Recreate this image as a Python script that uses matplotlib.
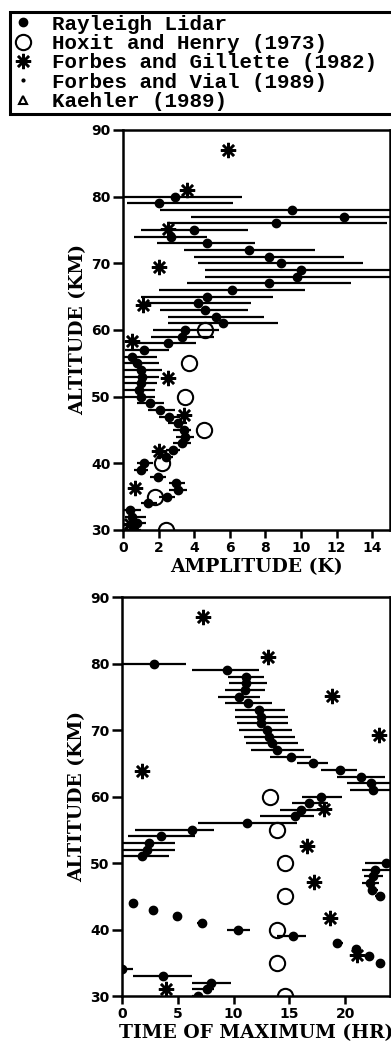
import numpy as np
import matplotlib
matplotlib.use("Agg")
import matplotlib.pyplot as plt

# Rayleigh lidar, altitude 30..80 km
alt = np.arange(30, 81)

# amplitude (K) with lower / upper ends of the bars
amp = [0.6, 0.8, 0.5, 0.4, 1.4, 2.45, 3.1, 3.0, 1.95, 1.0,
       1.2, 2.4, 2.8, 3.3, 3.5, 3.4, 3.1, 2.6, 2.1, 1.5,
       1.0, 0.9, 1.0, 1.05, 1.0, 0.8, 0.5, 1.2, 2.5, 3.3,
       3.5, 5.6, 5.2, 4.6, 4.2, 4.7, 6.1, 8.2, 9.8, 10.0,
       8.9, 8.2, 7.1, 4.7, 2.7, 4.0, 8.6, 12.4, 9.5, 2.0, 2.9]
amp_lo = [0.2, 0.3, 0.1, 0.0, 1.0, 2.0, 2.6, 2.6, 1.5, 0.6,
          0.8, 1.9, 2.4, 2.8, 3.0, 2.8, 2.5, 2.0, 1.4, 0.8,
          0.0, 0.0, 0.0, 0.0, 0.0, 0.0, 0.0, 0.1, 0.5, 1.6,
          1.7, 2.5, 2.5, 2.1, 1.1, 1.0, 2.0, 3.6, 4.6, 4.6,
          4.2, 4.0, 3.4, 1.9, 0.6, 1.0, 2.6, 3.8, 2.1, 0.24, -0.9]
amp_hi = [1.0, 1.3, 1.3, 1.0, 1.9, 2.9, 3.6, 3.5, 2.4, 1.4,
          1.7, 2.8, 3.2, 3.8, 4.0, 3.8, 3.6, 3.2, 2.9, 2.3,
          1.8, 1.8, 1.9, 2.0, 2.2, 2.0, 1.9, 2.6, 4.1, 5.1,
          5.4, 8.7, 7.9, 7.0, 7.2, 8.4, 10.2, 12.8, 16.0, 16.0,
          13.5, 12.4, 10.8, 7.4, 4.7, 7.0, 14.8, 21.0, 17.0, 6.2, 6.7]

# time of maximum (hr) with lower / upper ends of the bars
tmax = [6.8, 7.6, 8.0, 3.7, 0.0, 23.1, 22.1, 21.0, 19.3, 15.3,
        10.4, 7.15, 4.95, 2.8, 0.95, 23.1, 22.4, 22.2, 22.5, 22.7,
        23.7, 1.8, 2.2, 2.4, 3.5, 6.3, 11.2, 15.5, 16.0, 16.8,
        17.8, 22.5, 22.3, 21.4, 19.5, 17.1, 15.1, 13.9, 13.4, 13.2,
        13.0, 12.5, 12.5, 12.3, 11.3, 10.5, 11.0, 11.1, 11.1, 9.4, 2.9]
tmax_lo = [6.3, 6.25, 6.3, 1.0, -0.5, 22.8, 21.7, 20.6, 18.9, 13.9,
           9.4, 6.7, 4.6, 2.5, 0.6, 22.7, 22.0, 21.5, 21.7, 21.5,
           21.8, -0.5, -0.3, 0.0, 0.5, 1.2, 6.8, 12.4, 14.2, 15.2,
           16.1, 20.4, 20.2, 19.3, 17.8, 15.7, 13.3, 11.6, 11.1, 10.9,
           10.5, 10.3, 10.1, 10.1, 9.2, 8.6, 9.2, 9.6, 9.5, 6.3, -0.1]
tmax_hi = [7.3, 8.2, 9.8, 6.3, 1.0, 23.4, 22.5, 21.4, 19.8, 16.5,
           11.5, 7.6, 5.3, 3.1, 1.3, 23.6, 22.9, 23.0, 23.4, 24.5,
           25.5, 4.2, 4.75, 4.75, 6.5, 8.2, 15.7, 17.2, 18.5, 18.5,
           19.7, 24.6, 24.5, 23.6, 21.1, 18.5, 16.9, 16.3, 15.8, 15.5,
           15.2, 14.9, 14.9, 14.6, 13.4, 12.4, 12.8, 13.0, 12.7, 12.3, 5.7]

# Hoxit and Henry (1973)
hh_alt = [30, 35, 40, 45, 50, 55, 60]
hh_amp = [2.4, 1.8, 2.2, 4.55, 3.5, 3.7, 4.6]
hh_tmax = [14.6, 13.9, 13.9, 14.6, 14.6, 13.9, 13.3]

# Forbes and Gillette (1982)
fg_alt_amp = [30.9, 36.3, 41.9, 47.3, 52.8, 58.3, 63.8, 69.4, 75.2, 81.0, 87.0]
fg_amp = [0.4, 0.7, 2.0, 3.4, 2.55, 0.5, 1.1, 2.0, 2.5, 3.6, 5.9]
fg_alt_t = [31.1, 36.2, 41.7, 47.2, 52.6, 58.2, 63.9, 69.2, 75.1, 81.0, 87.0]
fg_tmax = [3.95, 21.1, 18.65, 17.2, 16.6, 18.1, 1.8, 23.0, 18.8, 13.1, 7.3]

# Forbes and Vial (1989) -- nothing visible inside the frames
fv_alt = []
fv_amp = []

# Kaehler (1989)
k_alt = [30.6, 31.4]
k_amp = [0.35, 0.6]

labels = ["Rayleigh Lidar", "Hoxit and Henry (1973)", "Forbes and Gillette (1982)",
          "Forbes and Vial (1989)", "Kaehler (1989)"]

serif = {"family": "DejaVu Serif", "weight": "bold", "size": 13.5}
star = (8, 2, 0)

fig = plt.figure(figsize=(3.91, 10.53), dpi=100)
ax1 = fig.add_axes([0.3146, 0.4967, 0.683, 0.3799])
ax2 = fig.add_axes([0.312, 0.0541, 0.685, 0.3789])


def lidar(ax, x, lo, hi):
    x = np.array(x)
    err = [x - np.array(lo), np.array(hi) - x]
    eb = ax.errorbar(x, alt, xerr=err, fmt="o", color="black", ms=6,
                     elinewidth=1.6, capsize=0, zorder=3)
    return eb[0]


h1 = lidar(ax1, amp, amp_lo, amp_hi)
h2, = ax1.plot(hh_amp, hh_alt, "o", mfc="none", mec="black", ms=11, mew=1.5,
               zorder=4)
h3, = ax1.plot(fg_amp, fg_alt_amp, ls="none", marker=star, color="black",
               ms=11, mew=1.8, zorder=4)
h4, = ax1.plot(fv_amp, fv_alt, ".", color="black", ms=4)
h5, = ax1.plot(k_amp, k_alt, "^", mfc="none", mec="black", ms=6, mew=1.5)

lidar(ax2, tmax, tmax_lo, tmax_hi)
ax2.plot(hh_tmax, hh_alt, "o", mfc="none", mec="black", ms=11, mew=1.5, zorder=4)
ax2.plot(fg_tmax, fg_alt_t, ls="none", marker=star, color="black",
         ms=11, mew=1.8, zorder=4)

ax1.set_xlim(0, 15)
ax1.set_xticks(range(0, 15, 2))
ax2.set_xlim(0, 24)
ax2.set_xticks(range(0, 21, 5))

for ax in (ax1, ax2):
    ax.set_ylim(30, 90)
    ax.set_yticks(range(30, 91, 10))
    for s in ax.spines.values():
        s.set_linewidth(1.8)
    ax.tick_params(direction="out", length=6, width=1.8, pad=2)
    ax.tick_params(axis="y", length=7)
    for t in ax.get_xticklabels() + ax.get_yticklabels():
        t.set_fontfamily("DejaVu Sans")
        t.set_fontweight("bold")
        t.set_fontsize(10)
    ax.set_ylabel("ALTITUDE (KM)", fontdict=serif, labelpad=3)

ax1.set_xlabel("AMPLITUDE (K)", fontdict=serif, labelpad=2)
ax2.set_xlabel("TIME OF MAXIMUM (HR)", fontdict=serif, labelpad=2)

leg = fig.legend([h1, h2, h3, h4, h5], labels, loc="upper left",
                 bbox_to_anchor=(0.0256, 0.8927, 1.0, 0.0959), mode="expand",
                 prop={"family": "Liberation Mono", "weight": "bold", "size": 15},
                 labelspacing=0.02, handlelength=1.0, handletextpad=0.9,
                 borderpad=0.12, borderaxespad=0, frameon=True, fancybox=False,
                 framealpha=1, edgecolor="black")
leg.get_frame().set_linewidth(2.2)

fig.savefig("out.png", dpi=100)
